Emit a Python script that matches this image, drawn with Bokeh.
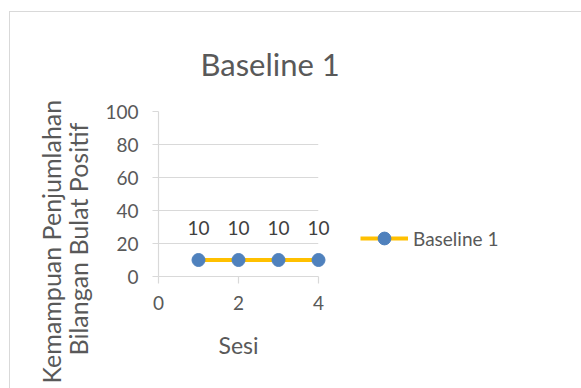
from bokeh.plotting import figure
from bokeh.models import Range1d, FixedTicker, Legend, LegendItem, Title
from bokeh.core.properties import value
from bokeh.embed import file_html
from bokeh.resources import INLINE

# --- data -------------------------------------------------------------
sesi = [1, 2, 3, 4]
skor = [10, 10, 10, 10]
series_name = "Baseline 1"
chart_title = "Baseline 1"
x_title = "Sesi"
y_title_lines = ["Kemampuan Penjumlahan", "Bilangan Bulat Positif"]
x_ticks = [0, 2, 4]
y_ticks = [0, 20, 40, 60, 80, 100]

# --- style ------------------------------------------------------------
FONT = "Lato"
TEXT_GREY = "#595959"
LABEL_DARK = "#404040"
GRID_GREY = "#d9d9d9"
LINE_GOLD = "#FFC000"
MARKER_BLUE = "#4F81BD"

# chart area sits inside a thin grey frame, 10px from the left, 12px from the top
p = figure(frame_width=160, frame_height=165, margin=(12, 0, 0, 10),
           output_backend="svg", toolbar_location=None,
           x_range=Range1d(0, 4), y_range=Range1d(0, 100),
           min_border_left=148, min_border_right=263,
           min_border_top=99, min_border_bottom=112)
p.styles = {"outline": "1.5px solid #d9d9d9"}
p.outline_line_color = None
p.background_fill_color = "white"
p.border_fill_color = "white"

p.title.text = chart_title
p.title.align = "left"
p.title.offset = 42
p.title.standoff = 58
p.title.text_font = FONT
p.title.text_font_size = "31px"
p.title.text_font_style = "normal"
p.title.text_color = TEXT_GREY

p.xgrid.visible = False
p.ygrid.ticker = FixedTicker(ticks=y_ticks)
p.ygrid.grid_line_color = GRID_GREY
p.ygrid.grid_line_width = 1.2

for ax in (p.xaxis[0], p.yaxis[0]):
    ax.axis_line_color = GRID_GREY
    ax.axis_line_width = 1.2
    ax.major_tick_line_color = GRID_GREY
    ax.major_tick_line_width = 1.2
    ax.minor_tick_line_color = None
    ax.major_tick_in = 0
    ax.major_label_text_font = FONT
    ax.major_label_text_font_size = "19px"
    ax.major_label_text_color = TEXT_GREY

p.yaxis.ticker = FixedTicker(ticks=y_ticks)
p.yaxis.major_tick_out = 6
p.yaxis.major_label_standoff = 14

p.xaxis.ticker = FixedTicker(ticks=x_ticks)
p.xaxis.major_tick_out = 7
p.xaxis.major_label_standoff = 12
p.xaxis.axis_label = x_title
p.xaxis.axis_label_text_font = FONT
p.xaxis.axis_label_text_font_size = "23px"
p.xaxis.axis_label_text_font_style = "normal"
p.xaxis.axis_label_text_color = TEXT_GREY
p.xaxis.axis_label_standoff = 18

# two-line value-axis title (inner line first, outer line tucked in close to it)
for standoff, offset, line in [(20, -79, y_title_lines[1]), (-31, -107, y_title_lines[0])]:
    p.add_layout(Title(text=line, align="left", offset=offset, standoff=standoff,
                       text_font=FONT, text_font_size="25px", text_font_style="normal",
                       text_color=TEXT_GREY), "left")

# --- series -----------------------------------------------------------
r_line = p.line(sesi, skor, line_color=LINE_GOLD, line_width=4, level="annotation")
r_pts = p.scatter(sesi, skor, size=13, fill_color=MARKER_BLUE, line_color=MARKER_BLUE,
                  level="overlay")
p.text(x=sesi, y=skor, text=[str(v) for v in skor], y_offset=-32,
       text_align="center", text_baseline="middle", text_font=value(FONT),
       text_font_size="19px", text_color=LABEL_DARK, level="overlay")

legend = Legend(items=[LegendItem(label=series_name, renderers=[r_line, r_pts])],
                location=(42, 22), padding=0, margin=0, spacing=0,
                glyph_width=48, glyph_height=32, label_standoff=5,
                label_text_font=FONT, label_text_font_size="19px",
                label_text_color=TEXT_GREY, border_line_color=None,
                background_fill_alpha=0)
p.add_layout(legend, "right")

open("out.html", "w").write(file_html(p, INLINE))
